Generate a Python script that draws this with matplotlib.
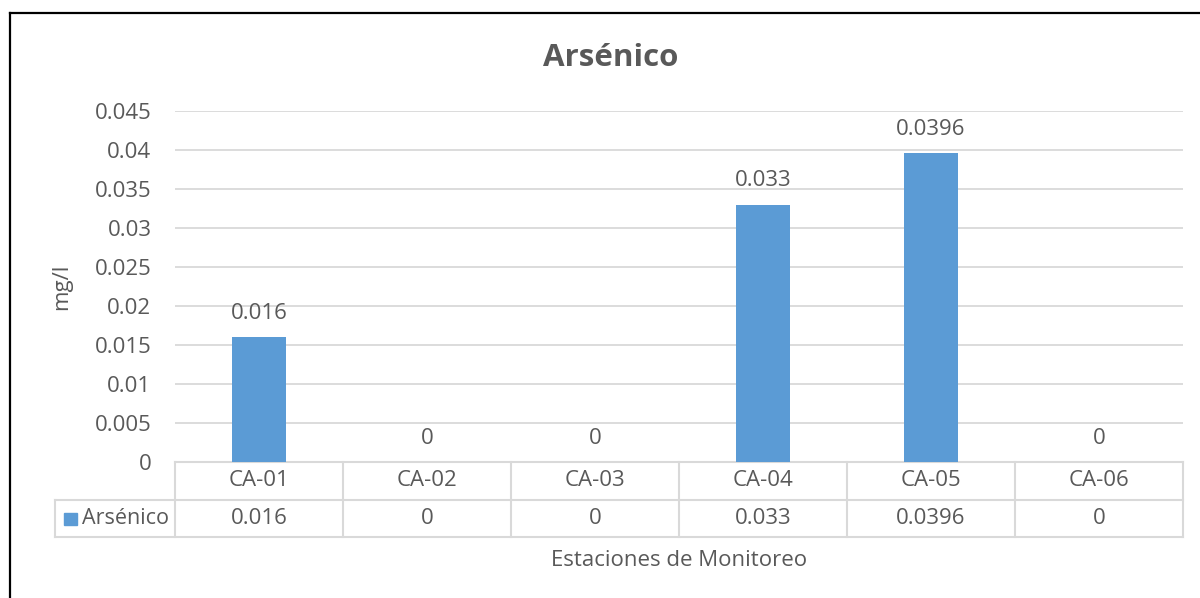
import matplotlib
matplotlib.use("Agg")
import matplotlib.pyplot as plt
import matplotlib.transforms as mtransforms
from matplotlib.lines import Line2D
from matplotlib.patches import Rectangle

categories = ["CA-01", "CA-02", "CA-03", "CA-04", "CA-05", "CA-06"]
values = [0.016, 0, 0, 0.033, 0.0396, 0]
value_labels = ["0.016", "0", "0", "0.033", "0.0396", "0"]
yticks = [0, 0.005, 0.01, 0.015, 0.02, 0.025, 0.03, 0.035, 0.04, 0.045]
ytick_labels = ["0", "0.005", "0.01", "0.015", "0.02", "0.025", "0.03", "0.035", "0.04", "0.045"]
series_name = "Arsénico"
title = "Arsénico"
xlabel = "Estaciones de Monitoreo"
ylabel = "mg/l"

plt.rcParams['font.family'] = ['Open Sans', 'DejaVu Sans']
TXT = "#595959"
GRID = "#d9d9d9"
BAR = "#5B9BD5"
W, H = 1200, 598
FS = 16

fig = plt.figure(figsize=(12, 5.98), dpi=100)
ax_l, ax_r, ax_t, ax_b = 175, 1183, 111, 462
ax = fig.add_axes([ax_l / W, 1 - ax_b / H, (ax_r - ax_l) / W, (ax_b - ax_t) / H])

x = list(range(len(categories)))
ax.bar(x, values, width=0.32, color=BAR, zorder=3)
ax.set_xlim(-0.5, len(categories) - 0.5)
ax.set_ylim(0, 0.045)
ax.set_yticks(yticks)
ax.set_yticklabels(ytick_labels, color=TXT, fontsize=FS)
ax.set_xticks([])
ax.tick_params(axis='y', length=0, pad=17)
for s in ax.spines.values():
    s.set_visible(False)
ax.grid(axis='y', color=GRID, linewidth=1.3, zorder=0)

# data labels
for xi, v, lab in zip(x, values, value_labels):
    ax.annotate(lab, (xi, v), xytext=(0, 17), textcoords='offset points',
                ha='center', va='center', fontsize=FS, color=TXT)

# title and axis labels
fig.text(611 / W, 1 - 58 / H, title, ha='center', va='center', fontsize=22.5,
         fontweight='bold', color=TXT)
fig.text(62 / W, 1 - 287 / H, ylabel, ha='center', va='center', fontsize=FS,
         color=TXT, rotation=90)
fig.text(679 / W, 1 - 560 / H, xlabel, ha='center', va='center', fontsize=FS, color=TXT)

# data table
tr = mtransforms.blended_transform_factory(ax.transData, ax.transAxes)
ah = ax_b - ax_t
row1 = -(500 - ax_b) / ah
row2 = -(537 - ax_b) / ah
left_lab = -0.5 - (ax_l - 55) / ((ax_r - ax_l) / len(categories))
n = len(categories)
lw = 1.5
def hline(x0, x1, y):
    ax.add_line(Line2D([x0, x1], [y, y], transform=tr, color=GRID, lw=lw, clip_on=False))
def vline(xv, y0, y1):
    ax.add_line(Line2D([xv, xv], [y0, y1], transform=tr, color=GRID, lw=lw, clip_on=False))
hline(-0.5, n - 0.5, 0)
hline(left_lab, n - 0.5, row1)
hline(left_lab, n - 0.5, row2)
for i in range(n + 1):
    vline(i - 0.5, 0, row2)
vline(left_lab, row1, row2)
for xi, c, lab in zip(x, categories, value_labels):
    ax.text(xi, row1 / 2, c, transform=tr, ha='center', va='center', fontsize=FS, color=TXT)
    ax.text(xi, (row1 + row2) / 2, lab, transform=tr, ha='center', va='center', fontsize=FS, color=TXT)
# legend key
fig.add_artist(Rectangle((64 / W, 1 - 525 / H), 13 / W, 12 / H, transform=fig.transFigure,
                         color=BAR))
fig.text(82 / W, 1 - 518.5 / H, series_name, ha='left', va='center', fontsize=15.5, color=TXT)

# outer border (left and top)
fig.add_artist(Line2D([10 / W, 10 / W], [0, 1 - 13 / H], transform=fig.transFigure,
                      color='black', lw=1.6))
fig.add_artist(Line2D([10 / W, 1], [1 - 13 / H, 1 - 13 / H], transform=fig.transFigure,
                      color='black', lw=1.6))

fig.savefig("out.png", dpi=100)
